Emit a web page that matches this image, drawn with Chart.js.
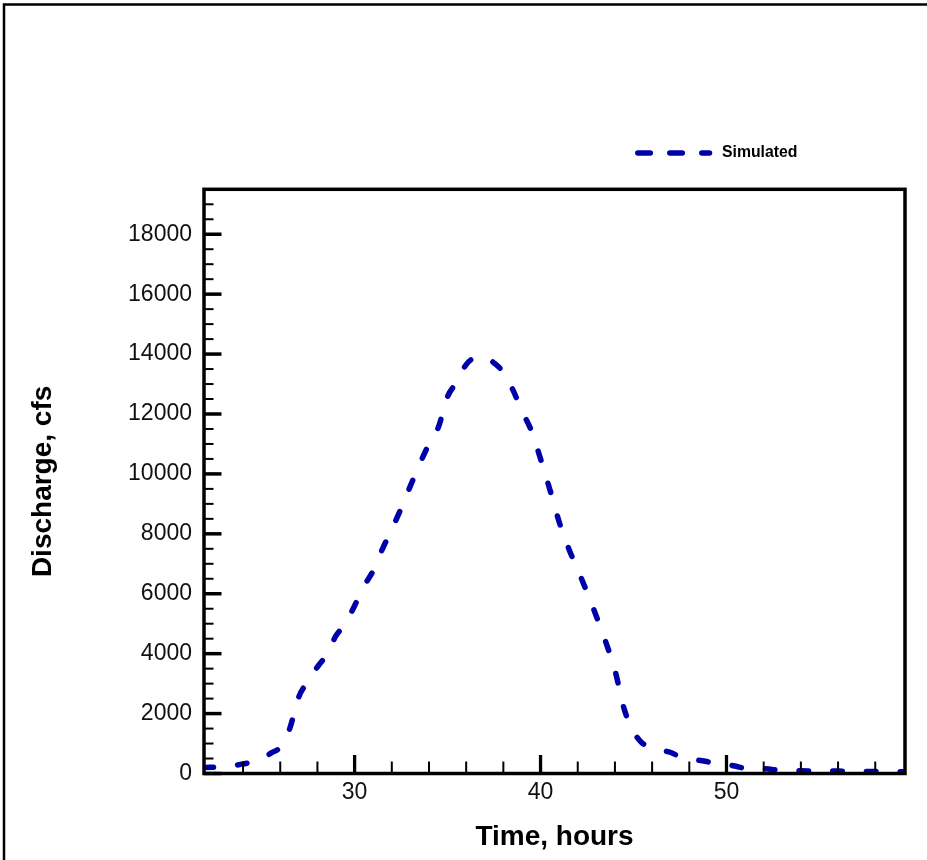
<!DOCTYPE html>
<html>
<head>
<meta charset="utf-8">
<script src="https://cdn.jsdelivr.net/npm/chart.js@4.4.1/dist/chart.umd.min.js"></script>
<style>
  html, body { margin: 0; padding: 0; background: #fff; }
  canvas { display: block; }
</style>
</head>
<body>
<canvas id="hydro" width="927" height="860"></canvas>
<script>
// hydrograph data
const hours = [21.9, 23, 24, 25, 25.5, 26, 26.5, 27, 27.5, 28, 28.5, 29, 29.5, 30, 30.5, 31, 31.5, 32, 32.5, 33,
  33.5, 34, 34.5, 35, 35.5, 36, 36.5, 37, 37.5, 38, 38.5, 39, 39.5, 40, 40.5, 41, 41.5, 42, 42.5, 43,
  43.5, 44, 44.5, 45, 45.5, 46, 46.5, 47, 47.5, 48, 48.5, 49, 49.5, 50, 50.5, 51, 52, 53, 54, 55,
  56, 57, 58, 59.6]
const discharge = [200, 230, 320, 480, 680, 880, 1480, 2560, 3080, 3560, 3970, 4600, 5000, 5600, 6250, 6770, 7500, 8150, 8850, 9600,
  10330, 11000, 11550, 12580, 13070, 13650, 13880, 13900, 13700, 13390, 12820, 12100, 11450, 10500, 9480, 8400, 7530, 6800, 6050, 5250,
  4400, 3450, 2150, 1400, 1000, 880, 780, 700, 560, 480, 440, 390, 320, 300, 240, 175, 160, 100, 90, 80,
  80, 70, 70, 60]

const xTicks = [30, 40, 50]
const yTicks = [0, 2000, 4000, 6000, 8000, 10000, 12000, 14000, 16000, 18000]
const seriesName = "Simulated"

const BLUE = "#0000a8"
const FONT = "'Liberation Sans', Arial, sans-serif"

// frame, inward ticks and legend
const framePlugin = {
  id: "frame",
  beforeDraw(chart) {
    const ctx = chart.ctx
    ctx.save()
    ctx.fillStyle = "#fff"
    ctx.fillRect(0, 0, chart.width, chart.height)
    ctx.restore()
  },
  afterDraw(chart) {
    const ctx = chart.ctx
    const a = chart.chartArea
    const xs = chart.scales.x
    const ys = chart.scales.y
    ctx.save()
    ctx.strokeStyle = "#000"

    // outer page border
    ctx.lineWidth = 2.5
    ctx.strokeRect(4, 4.5, 1200, 1200)

    // y ticks every 500
    for (let v = 0; v <= ys.max; v += 500) {
      const y = ys.getPixelForValue(v)
      const major = v % 2000 === 0
      ctx.lineWidth = major ? 3.5 : 2
      ctx.beginPath()
      ctx.moveTo(a.left, y)
      ctx.lineTo(a.left + (major ? 17.5 : 9.5), y)
      ctx.stroke()
    }
    // x ticks every 2
    for (let v = 24; v <= xs.max; v += 2) {
      const x = xs.getPixelForValue(v)
      const major = v % 10 === 0
      ctx.lineWidth = major ? 3.3 : 2
      ctx.beginPath()
      ctx.moveTo(x, a.bottom)
      ctx.lineTo(x, a.bottom - (major ? 18.5 : 12))
      ctx.stroke()
    }

    // plot box
    ctx.lineWidth = 3.5
    ctx.strokeRect(a.left, a.top, a.right - a.left, a.bottom - a.top)

    // legend
    ctx.strokeStyle = BLUE
    ctx.lineWidth = 5.5
    ctx.lineCap = "round"
    ctx.setLineDash([12.5, 19.5])
    ctx.beginPath()
    ctx.moveTo(637.8, 153)
    ctx.lineTo(709.5, 153)
    ctx.stroke()
    ctx.setLineDash([])
    ctx.fillStyle = "#000"
    ctx.font = "bold 15.8px " + FONT
    ctx.textAlign = "left"
    ctx.textBaseline = "middle"
    ctx.fillText(seriesName, 722, 153)
    ctx.restore()
  },
}

new Chart(document.getElementById("hydro"), {
  type: "line",
  data: {
    datasets: [{
      label: seriesName,
      data: hours.map((h, i) => ({ x: h, y: discharge[i] })),
      borderColor: BLUE,
      borderWidth: 5.5,
      borderDash: [9.5, 24.2],
      borderCapStyle: "round",
      borderJoinStyle: "round",
      pointRadius: 0,
      cubicInterpolationMode: "monotone",
      fill: false,
    }],
  },
  options: {
    responsive: false,
    animation: false,
    layout: { padding: { top: 189.3, right: 22, left: 0, bottom: 0 } },
    plugins: { legend: { display: false }, tooltip: { enabled: false } },
    scales: {
      x: {
        type: "linear",
        min: 21.9,
        max: 59.6,
        afterFit(s) { s.height = 86.5 },
        afterBuildTicks(s) { s.ticks = xTicks.map((v) => ({ value: v })) },
        grid: { display: false, drawTicks: false },
        border: { display: false },
        ticks: {
          padding: 5,
          color: "#111",
          font: { family: FONT, size: 23 },
          maxRotation: 0,
          callback: (v) => String(v),
        },
        title: {
          display: true,
          text: "Time, hours",
          color: "#000",
          font: { family: FONT, size: 28, weight: "bold" },
          padding: { top: 0, bottom: 6 },
        },
      },
      y: {
        min: 0,
        max: 19500,
        afterFit(s) { s.width = 204 },
        afterBuildTicks(s) { s.ticks = yTicks.map((v) => ({ value: v })) },
        grid: { display: false, drawTicks: false },
        border: { display: false },
        ticks: {
          padding: 12,
          color: "#111",
          font: { family: FONT, size: 23 },
          callback: (v) => String(v),
        },
        title: {
          display: true,
          text: "Discharge, cfs",
          color: "#000",
          font: { family: FONT, size: 28, weight: "bold" },
          padding: { top: 26.5, bottom: 0 },
        },
      },
    },
  },
  plugins: [framePlugin],
})
</script>
</body>
</html>
